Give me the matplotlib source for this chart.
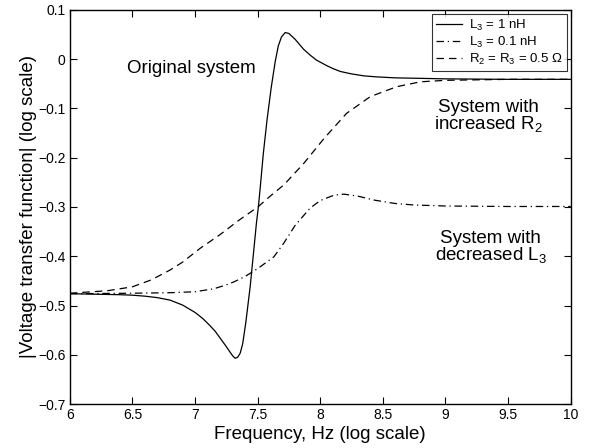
import matplotlib
matplotlib.use('Agg')
import matplotlib.pyplot as plt

plt.rcParams['font.family'] = ['Liberation Sans', 'DejaVu Sans']
plt.rcParams['mathtext.fontset'] = 'custom'
plt.rcParams['mathtext.rm'] = 'Liberation Sans'
plt.rcParams['mathtext.it'] = 'Liberation Sans'

# log10 frequency vs log10 |H| for the three circuit variants
f_orig = [6.0, 6.2, 6.4, 6.5, 6.6, 6.7, 6.8, 6.9, 7.0, 7.06, 7.12, 7.16, 7.2,
          7.24, 7.27, 7.3, 7.32, 7.34, 7.36, 7.38, 7.405, 7.44, 7.465, 7.49,
          7.506, 7.52, 7.545, 7.575, 7.608, 7.64, 7.665, 7.69, 7.72, 7.75, 7.8,
          7.867, 7.92, 7.97, 8.05, 8.1, 8.16, 8.25, 8.35, 8.45, 8.6, 8.8, 9.0,
          9.5, 10.0]
h_orig = [-0.476, -0.477, -0.478, -0.479, -0.481, -0.484, -0.489, -0.499, -0.514,
          -0.526, -0.541, -0.552, -0.566, -0.580, -0.591, -0.602, -0.607, -0.605,
          -0.597, -0.578, -0.535, -0.462, -0.398, -0.333, -0.299, -0.262, -0.192,
          -0.123, -0.058, -0.005, 0.027, 0.045, 0.054, 0.052, 0.040, 0.020, 0.008,
          -0.002, -0.013, -0.019, -0.025, -0.030, -0.034, -0.036, -0.038, -0.039,
          -0.040, -0.041, -0.041]

f_l3 = [6.0, 6.5, 6.8, 7.0, 7.15, 7.25, 7.31, 7.4, 7.506, 7.63, 7.707, 7.76, 7.8,
        7.92, 8.0, 8.11, 8.19, 8.3, 8.43, 8.6, 8.75, 9.0, 9.5, 10.0]
h_l3 = [-0.476, -0.475, -0.474, -0.472, -0.466, -0.458, -0.452, -0.441, -0.424,
        -0.401, -0.374, -0.353, -0.337, -0.302, -0.287, -0.276, -0.274, -0.278,
        -0.286, -0.293, -0.296, -0.298, -0.299, -0.299]

f_r2 = [6.0, 6.3, 6.5, 6.65, 6.8, 6.9, 7.04, 7.2, 7.35, 7.506, 7.6, 7.71, 7.87,
        8.03, 8.21, 8.4, 8.61, 8.8, 9.0, 9.5, 10.0]
h_r2 = [-0.475, -0.470, -0.462, -0.448, -0.428, -0.412, -0.384, -0.356, -0.327,
        -0.299, -0.278, -0.255, -0.211, -0.161, -0.110, -0.076, -0.056, -0.046,
        -0.043, -0.041, -0.041]

xticks = [6, 6.5, 7, 7.5, 8, 8.5, 9, 9.5, 10]
yticks = [-0.7, -0.6, -0.5, -0.4, -0.3, -0.2, -0.1, 0, 0.1]

fig = plt.figure(figsize=(5.92, 4.48), dpi=100)
ax = fig.add_axes([0.118, 0.098, 0.846, 0.880])

ax.plot(f_orig, h_orig, 'k-', lw=0.9, label=r'L$_3$ = 1 nH')
ax.plot(f_l3, h_l3, 'k-.', lw=0.9, dashes=(6, 3, 1, 3), label=r'L$_3$ = 0.1 nH')
ax.plot(f_r2, h_r2, 'k--', lw=0.9, dashes=(6, 4), label=r'R$_2$ = R$_3$ = 0.5 Ω')

ax.set_xlim(6, 10)
ax.set_ylim(-0.7, 0.1)
ax.set_xticks(xticks)
ax.set_xticklabels(['%g' % t for t in xticks])
ax.set_yticks(yticks)
ax.set_yticklabels(['%g' % t if t >= 0 else '\u2212%g' % -t for t in yticks])
ax.tick_params(direction='in', top=True, right=True, labelsize=10, length=5,
               width=0.8, pad=3)
for s in ax.spines.values():
    s.set_linewidth(1.0)

ax.set_xlabel('Frequency, Hz (log scale)', fontsize=13.5, labelpad=3)
ax.set_ylabel('|Voltage transfer function| (log scale)', fontsize=13.5, labelpad=1)

ax.text(6.97, -0.018, 'Original system', fontsize=13.5, ha='center', va='center')
ax.text(9.34, -0.117, 'System with\nincreased R$_2$', fontsize=13.5, ha='center',
        va='center', linespacing=0.85)
ax.text(9.36, -0.382, 'System with\ndecreased L$_3$', fontsize=13.5, ha='center',
        va='center', linespacing=0.85)

leg = ax.legend(loc='upper right', fontsize=9.5, frameon=True, fancybox=False,
                borderaxespad=0.3, handlelength=2.0, labelspacing=0.15,
                borderpad=0.3, handletextpad=0.5)
leg.get_frame().set_edgecolor('black')
leg.get_frame().set_linewidth(0.8)

fig.savefig('out.png', dpi=100)
